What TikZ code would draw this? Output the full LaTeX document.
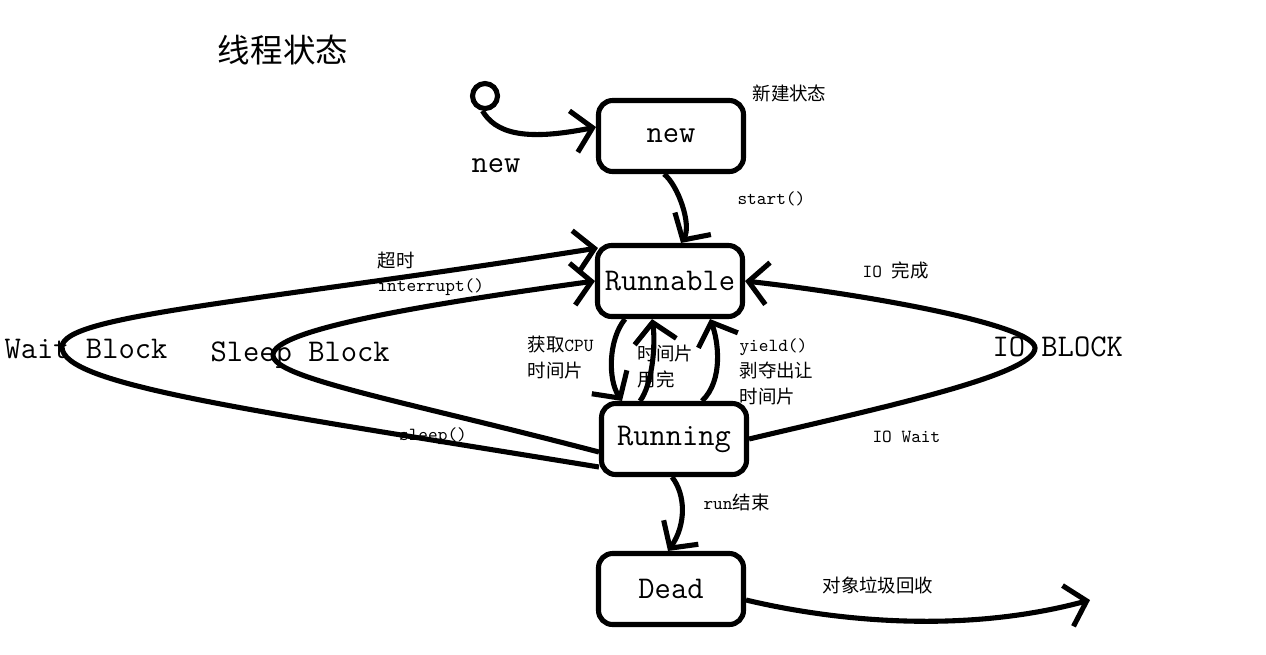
\documentclass[tikz,border=0pt]{standalone}
\usepackage{fontspec}
\newfontfamily\cjk{Noto Sans CJK SC}
\usetikzlibrary{arrows.meta,calc}

\begin{document}
\begin{tikzpicture}[x=0.02cm,y=-0.02cm,line width=2.9pt,
  statebox/.style={draw,rounded corners=8pt,minimum width=2.9cm,minimum height=1.42cm,font=\fontsize{18}{20}\selectfont\ttfamily},
  biglbl/.style={font=\fontsize{18}{20}\selectfont\ttfamily,inner sep=0pt},
  lbl/.style={font=\fontsize{10.5}{14.8}\selectfont\ttfamily,inner sep=0pt,align=left},
  trans/.style={-{Straight Barb[length=11pt,width=24pt]}}]
\useasboundingbox (0,0) rectangle (1266,654);
\node[font=\fontsize{18.5}{20}\selectfont\cjk] (title) at (283,50) {线程状态};
\node[draw,circle,minimum size=0.5cm,inner sep=0pt] (init) at (485,96) {};
  \foreach \nm/\txt/\x/\y in {new/new/671/136,runnable/Runnable/670/281,running/Running/674/439,dead/Dead/671/589}
  {  \node [statebox] (\nm) at (\x,\y) {\txt};}
\coordinate (wtip) at (62,347);
\coordinate (stip) at (273,355);
\coordinate (iotip) at (1035,348);
\coordinate (gc) at (1090,600);
% labels
\node[lbl,anchor=west] (newtag) at (750,93) {\cjk 新建状态};
\node[biglbl] (newlbl) at (496,166) {new};
\node[lbl,anchor=west] (startlbl) at (735,199) {start()};
\node[lbl,anchor=west] (tolbl) at (375,260) {\cjk 超时};
\node[lbl,anchor=west] (intlbl) at (375,287) {interrupt()};
\node[biglbl,anchor=west] (waitlbl) at (2,349) {Wait Block};
\node[biglbl,anchor=west] (sleeplbl) at (208,355) {Sleep Block};
\node[lbl] (sleepcall) at (433,436) {sleep()};
\node[lbl,anchor=west] (cpulbl) at (525,357) {{\cjk 获取}CPU\\{\cjk 时间片}};
\node[lbl,anchor=west] (usedlbl) at (635,367) {{\cjk 时间片}\\{\cjk 用完}};
\node[lbl,anchor=west] (yieldlbl) at (737,372) {yield()\\{\cjk 剥夺出让}\\{\cjk 时间片}};
\node[lbl,anchor=west] (iodone) at (860,270) {IO {\cjk 完成}};
\node[biglbl,anchor=west] (iolbl) at (990,347) {IO BLOCK};
\node[lbl,anchor=west] (iowait) at (870,437) {IO Wait};
\node[lbl,anchor=west] (runend) at (701,502) {run{\cjk 结束}};
\node[lbl,anchor=west] (gclbl) at (820,585) {\cjk 对象垃圾回收};
% transitions
\draw[trans] (init.-100) .. controls (495,132) and (522,142) .. ($(new.west)+(0,-9)$);
\draw[trans] ($(new.south)+(-7,0)$) .. controls (678,185) and (692,225) .. ($(runnable.north)+(11,0)$);
\draw[trans] ($(running.west)+(0,28)$) .. controls (250,410) and (62,385) .. (wtip) .. controls (62,315) and (250,303) .. ($(runnable.north west)+(3,5)$);
\draw[trans] ($(running.west)+(0,13)$) .. controls (400,400) and (273,378) .. (stip) .. controls (273,330) and (420,305) .. (runnable.west);
\draw[trans] ($(runnable.south)+(-45,0)$) .. controls (608,340) and (608,380) .. ($(running.north)+(-52,0)$);
\draw[trans] ($(running.north)+(-34,0)$) .. controls (652,385) and (656,345) .. ($(runnable.south)+(-18,0)$);
\draw[trans] ($(running.north)+(28,0)$) .. controls (724,380) and (718,340) .. ($(runnable.south)+(40,0)$);
\draw[trans] (running.east) .. controls (880,408) and (1035,375) .. (iotip) .. controls (1035,325) and (870,295) .. (runnable.east);
\draw[trans] ($(running.south)+(-2,0)$) .. controls (686,495) and (686,525) .. ($(dead.north)+(-3,0)$);
\draw[trans] ($(dead.east)+(0,11)$) .. controls (830,620) and (960,635) .. (gc);
\end{tikzpicture}
\end{document}
